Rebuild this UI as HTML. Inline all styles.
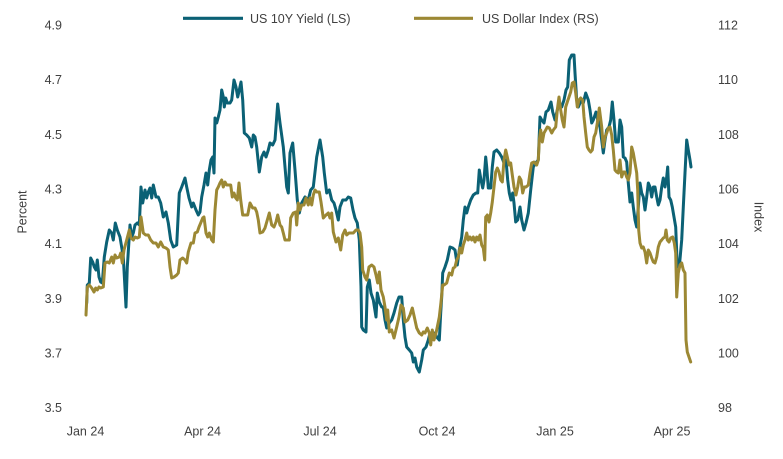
<!DOCTYPE html>
<html><head><meta charset="utf-8"><style>
html,body{margin:0;padding:0;background:#fff;}
svg{display:block;}
text{font-family:"Liberation Sans",Arial,sans-serif;font-size:12.5px;fill:#404040;}
</style></head><body>
<svg width="783" height="459" viewBox="0 0 783 459" xmlns="http://www.w3.org/2000/svg">
<rect width="783" height="459" fill="#fff"/>
<!-- legend -->
<line x1="183" y1="18.3" x2="243" y2="18.3" stroke="#0b6175" stroke-width="3.2"/>
<text x="250" y="23">US 10Y Yield (LS)</text>
<line x1="414" y1="18.3" x2="473" y2="18.3" stroke="#9c8834" stroke-width="3.2"/>
<text x="482" y="23">US Dollar Index (RS)</text>
<!-- left ticks -->
<g text-anchor="end">
<text x="62" y="29.5">4.9</text>
<text x="62" y="84.2">4.7</text>
<text x="62" y="138.8">4.5</text>
<text x="62" y="193.5">4.3</text>
<text x="62" y="248.2">4.1</text>
<text x="62" y="302.8">3.9</text>
<text x="62" y="357.5">3.7</text>
<text x="62" y="412.2">3.5</text>
</g>
<!-- right ticks -->
<g text-anchor="start">
<text x="718" y="29.5">112</text>
<text x="718" y="84.2">110</text>
<text x="718" y="138.8">108</text>
<text x="718" y="193.5">106</text>
<text x="718" y="248.2">104</text>
<text x="718" y="302.8">102</text>
<text x="718" y="357.5">100</text>
<text x="718" y="412.2">98</text>
</g>
<!-- x ticks -->
<g text-anchor="middle">
<text x="85.5" y="435.5">Jan 24</text>
<text x="202.5" y="435.5">Apr 24</text>
<text x="320" y="435.5">Jul 24</text>
<text x="437" y="435.5">Oct 24</text>
<text x="555" y="435.5">Jan 25</text>
<text x="672" y="435.5">Apr 25</text>
</g>
<text transform="translate(26.5,212) rotate(-90)" text-anchor="middle">Percent</text>
<text transform="translate(754.5,217) rotate(90)" text-anchor="middle">Index</text>
<!-- yield -->
<polyline fill="none" stroke="#0b6175" stroke-width="3" stroke-linejoin="round" stroke-linecap="round" points="86.7,303 87.3,285 89.3,283 90.7,258 92.7,262 94.3,267 96,270 97.3,260 99,277 100.7,282 102.3,283 104.3,257 106.7,242 109.3,230 111.7,233 113.3,240 115.3,223 117.3,230 120,237 123.3,257 126,307 127.3,267 130,225 131.7,237 133.3,233 135,225 137.3,223 139.3,225 141,187 142.7,203 145,190 146.7,198 148.3,192 150,188 151.7,198 153.3,185 156,197 158.3,197 160.7,203 163.3,217 166,212 168.3,223 170.7,240 173.3,247 176.7,245 179.3,193 181.7,187 185,178 186.7,187 189,198 191.7,207 193.3,203 196,210 198.3,215 200,212 201.7,197 204,185 206,173 207.7,185 209.3,170 211,160 212.7,157 214,173 215,118 216.7,123 218.3,117 220,110 221.7,90 223.3,97 224.3,107 225.7,98 227.3,103 230,103 231.7,100 234,80 236,87 237.7,97 239.3,90 241,82 242.7,100 244.3,133 246.7,135 249.3,138 251.7,147 253.3,135 255,137 256.7,147 259.3,172 261.7,157 264,152 266,157 268.3,150 270,143 272.7,145 275,140 277.7,104 280,123 283.3,147 286.7,187 288.3,193 290,153 292.7,143 295,170 297.3,200 299.3,213 301.7,203 305,197 308.3,200 310.7,190 313.3,187 316.7,157 320,140 322.7,157 324.3,173 326.7,193 329.3,190 331.7,200 334,203 336,210 338.3,220 340,207 342.7,200 346,200 348.3,197 350.7,198 353,210 355,218 357.3,223 359.3,240 361,287 361.7,327 363.3,330 366,332 367.3,287 369.3,280 371,293 373.3,300 376,317 377.3,293 379.3,302 381.7,307 383.3,307 385,320 386.7,328 389.3,323 391.7,320 394,313 396.7,303 399,297 401.7,297 403.3,320 405,337 406.7,347 409.3,350 411.7,353 413.3,362 415,358 416.7,367 419.3,372 421.7,360 423.3,350 426,347 428.3,340 430,333 432.7,337 435,333 436.7,337 439.3,340 440.7,313 441.7,297 442.7,273 445,267 447.3,260 450,247 452.7,248 455,250 457.3,265 459.3,250 461.7,237 463.3,220 465,207 466.7,213 468.3,207 470.7,200 473.3,195 476,193 477.7,193 479.3,170 481,180 482.7,188 484,180 485.7,157 486.7,167 488.3,188 490.7,188 492.3,167 494,152 496.7,150 499.3,153 501.7,157 504,163 506,160 507.7,180 509.3,193 511,200 512.7,193 514,203 515.7,222 517.7,220 520,207 521.7,220 524,230 526,223 528.3,213 530.7,190 533.3,167 535.7,163 538.3,160 540,117 541.7,120 544,123 546,112 548.3,110 551,102 552.7,112 555,120 557.3,110 559.3,103 561.7,107 564,100 566,90 567.7,87 569.3,60 571.7,55 574,55 575,73 576.7,100 578.3,107 580,103 581.7,100 583.3,103 585.7,93 588.3,100 590,110 591.7,123 593.3,120 596,112 597.7,120 600,127 601.7,140 603.3,153 605,140 606.7,130 609,127 610.7,120 612.3,102 614,120 615.7,142 618.3,142 620,120 621.7,127 623.3,157 625,158 626.7,162 628.3,183 630,202 631.7,193 633.3,207 635,220 636.7,227 638.3,207 640,183 641.7,193 643.3,197 645,210 646.7,197 648.3,183 650,187 651.7,197 653.3,187 655,187 656.7,197 658.3,205 660,200 661.7,187 663.3,178 665,187 666.7,177 667.7,167 669,197 670.7,200 672.3,207 674,217 675.7,227 677.3,267 679.3,267 681.7,240 683.3,207 685,173 686.7,140 688.3,150 690,160 691,167"/>
<!-- dollar -->
<polyline fill="none" stroke="#9c8834" stroke-width="3" stroke-linejoin="round" stroke-linecap="round" points="86,315 87.3,287 89.3,285 91.7,288 94,292 95.7,288 97.3,290 99,287 100.7,288 103.3,287 105,263 107.3,262 109.3,263 111.7,257 113.3,263 115,255 116.7,258 119.3,257 120.7,253 122.3,263 124,250 126.7,240 129.3,230 131,238 133.3,240 135,237 137.3,238 139.3,237 141,217 143.3,233 145.7,235 148.3,235 150.7,240 153.3,243 156,243 158.3,247 160.7,242 163.3,247 166,248 168.3,250 170,267 171.7,278 174,277 176.7,275 178.3,273 180,260 182.7,258 185,260 186.7,263 188.3,252 191,243 193.3,243 195,233 197.3,232 199,227 200.7,223 202.7,218 204,217 206,233 207.7,237 209.3,233 211.7,240 213.3,242 215,210 216.7,190 218.3,187 220,183 221.7,180 223.3,187 225,182 226.7,185 229,185 230.7,185 232.3,197 234,193 235.7,198 237.3,200 239,183 240.7,200 242.7,215 245,215 247.7,215 250,203 252.7,208 255,208 256.7,212 258.3,220 260,233 262.7,232 265,228 267.3,220 269.3,213 271.7,225 274,227 276,222 277.7,215 280,225 281.7,227 283.3,233 285,240 287.3,240 289.3,240 290.7,218 293.3,213 295.7,212 296.7,225 298.3,203 300,210 301.7,205 304,205 306,198 308.3,205 310,198 311.7,205 313.3,195 315,190 316.7,192 319.3,192 321,202 323.3,218 326,215 328.3,213 330,218 331.7,213 333.3,232 336,242 338.3,238 340.7,250 342.7,235 345,230 346.7,235 349,233 351.7,233 353.3,233 356,230 358.3,230 360,233 361.7,247 362.7,270 365,277 366.7,280 369,267 371.7,265 374,267 376,275 377.7,283 379.3,272 381,290 383.3,297 385,307 386.7,320 387.7,310 389.3,332 391.7,330 394,338 396.7,327 399,317 401,305 403.3,308 405,322 407.7,320 410,315 412.3,308 414.3,317 416.7,328 419.3,333 421.7,335 423.3,332 425,333 427.3,328 429.3,333 430.7,345 432.3,330 434,340 436,333 437.3,327 439.3,317 441,302 442.7,285 444,285 446.7,283 449.3,273 451.7,275 453.3,268 455,267 456.7,260 458.3,257 460,248 461.7,253 463.3,245 465,240 466.7,233 468.3,240 470,237 471.7,240 473.3,237 475,242 476.7,237 478.3,240 480,235 481.7,245 483.3,248 484.7,260 485.7,217 487.3,215 489,222 490.7,213 492.3,202 494,187 495.7,172 497.3,168 499,172 500.7,180 502.3,182 504,160 505.7,150 507.3,157 509,165 510.7,163 512.3,175 514,187 516,195 517.7,187 519.3,177 521,180 522.7,193 524.3,187 526,187 528.3,185 530,173 531.7,163 534,162 536.7,165 538.3,160 539.3,140 540.7,130 542.3,142 544,133 545.7,130 547.3,127 549.3,128 551.7,133 553.3,130 555.7,127 557.3,110 559,97 560.7,110 562.3,120 564,127 565.7,107 567.3,102 569,97 570.7,92 572.3,83 574,82 575.7,93 577.3,107 579,100 580.7,98 582.7,100 584,117 585.7,133 587.3,147 589,150 590.7,152 592.3,150 594,137 595.7,133 597.3,123 599.3,108 601.7,127 603.3,147 605,137 606.7,133 608.3,128 610,127 611.7,135 613.3,150 615,170 616.7,172 618.3,173 620,160 621.7,177 623.3,172 625,172 626.7,177 628.3,180 630,173 631.7,147 633.3,153 635,163 636.7,173 637.7,190 638.7,230 640,243 641.7,248 643.3,247 645,252 646.7,263 648.3,250 650,253 651.7,258 653.3,262 655,263 656.7,257 658.3,247 660,242 661.7,240 663.3,238 665,237 666,230 667.3,240 669,242 670.7,238 672.7,237 674.3,243 675.7,253 676.7,297 678.3,273 680,265 681.7,263 683.3,270 685,273 686,340 687.3,352 689,357 690.7,362"/>
</svg>
</body></html>
